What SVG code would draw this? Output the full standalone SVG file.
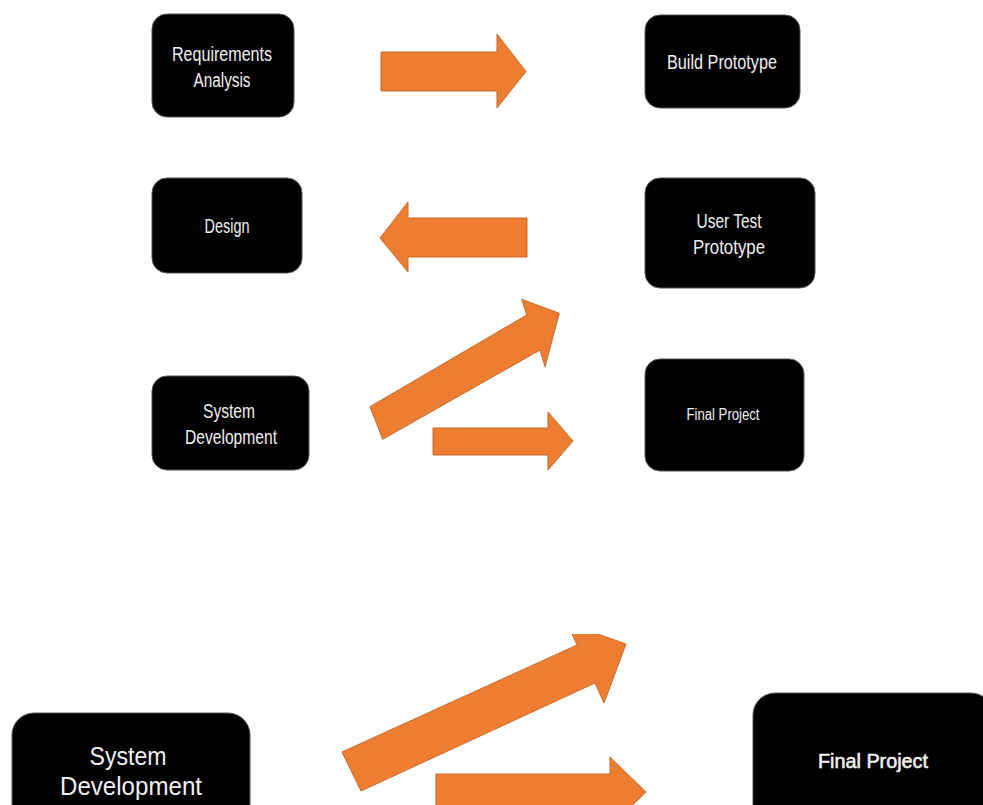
<svg xmlns="http://www.w3.org/2000/svg" width="983" height="805" viewBox="0 0 983 805">
  <defs>
    <style>
      .box { fill: #000; stroke: #555; stroke-width: 1; }
      .lbl { font-family: "Liberation Sans", Arial, sans-serif; fill: #f0f0f0; text-anchor: middle; }
      .arrow { fill: #ED7D31; stroke: #C96A2A; stroke-width: 1; stroke-linejoin: miter; }
    </style>
    <clipPath id="lowerClip">
      <rect x="0" y="634" width="983" height="171"/>
    </clipPath>
  </defs>
  <rect width="983" height="805" fill="#fff"/>

  <!-- upper flow -->
  <g id="node-requirements">
    <rect class="box" x="152" y="14" width="142" height="103" rx="15"/>
    <text class="lbl" x="222" y="61" font-size="20" textLength="100" lengthAdjust="spacingAndGlyphs">Requirements</text>
    <text class="lbl" x="222" y="87" font-size="20" textLength="57" lengthAdjust="spacingAndGlyphs">Analysis</text>
  </g>
  <g id="node-build-prototype">
    <rect class="box" x="645" y="15" width="155" height="93" rx="15"/>
    <text class="lbl" x="722" y="69" font-size="20" textLength="110" lengthAdjust="spacingAndGlyphs">Build Prototype</text>
  </g>
  <g id="node-design">
    <rect class="box" x="152" y="178" width="150" height="95" rx="15"/>
    <text class="lbl" x="227" y="233" font-size="20" textLength="45" lengthAdjust="spacingAndGlyphs">Design</text>
  </g>
  <g id="node-user-test">
    <rect class="box" x="645" y="178" width="170" height="110" rx="15"/>
    <text class="lbl" x="729" y="228" font-size="20" textLength="65" lengthAdjust="spacingAndGlyphs">User Test</text>
    <text class="lbl" x="729" y="254" font-size="20" textLength="72" lengthAdjust="spacingAndGlyphs">Prototype</text>
  </g>
  <g id="node-system-dev">
    <rect class="box" x="152" y="376" width="157" height="94" rx="15"/>
    <text class="lbl" x="229" y="418" font-size="20" textLength="52" lengthAdjust="spacingAndGlyphs">System</text>
    <text class="lbl" x="231" y="444" font-size="20" textLength="92" lengthAdjust="spacingAndGlyphs">Development</text>
  </g>
  <g id="node-final-project">
    <rect class="box" x="645" y="359" width="159" height="112" rx="15"/>
    <text class="lbl" x="723" y="420" font-size="16" textLength="73" lengthAdjust="spacingAndGlyphs">Final Project</text>
  </g>

  <!-- lower, enlarged flow -->
  <g id="node-system-dev-large">
    <rect class="box" x="12" y="713" width="238" height="130" rx="22"/>
    <text class="lbl" x="128" y="765" font-size="25" textLength="77" lengthAdjust="spacingAndGlyphs">System</text>
    <text class="lbl" x="131" y="795" font-size="25" textLength="142" lengthAdjust="spacingAndGlyphs">Development</text>
  </g>
  <g id="node-final-project-large">
    <rect class="box" x="753" y="693" width="240" height="140" rx="22"/>
    <text class="lbl" x="873" y="768" font-size="21" stroke="#f0f0f0" stroke-width="0.6" textLength="110" lengthAdjust="spacingAndGlyphs">Final Project</text>
  </g>

  <g id="connectors">
    <polygon class="arrow" points="381,52 497,52 497,34 526,71.5 497,108 497,91 381,91"/>
    <polygon class="arrow" points="527,218 408,218 408,202 380,238 408,272 408,257 527,257"/>
    <polygon class="arrow" points="370,406.7 526.7,315 521.7,299.3 559.3,313.3 545,366.7 540,350 382.7,439.3"/>
    <polygon class="arrow" points="433,428 548,428 548,412 573,441 548,470 548,455 433,455"/>
    <g clip-path="url(#lowerClip)">
      <polygon class="arrow" points="342,752 577,645 567,623 626,644 604,703 595,683 361,791"/>
      <polygon class="arrow" points="436,774 610,774 610,757 646,792 610,827 610,810 436,810"/>
    </g>
  </g>
</svg>
